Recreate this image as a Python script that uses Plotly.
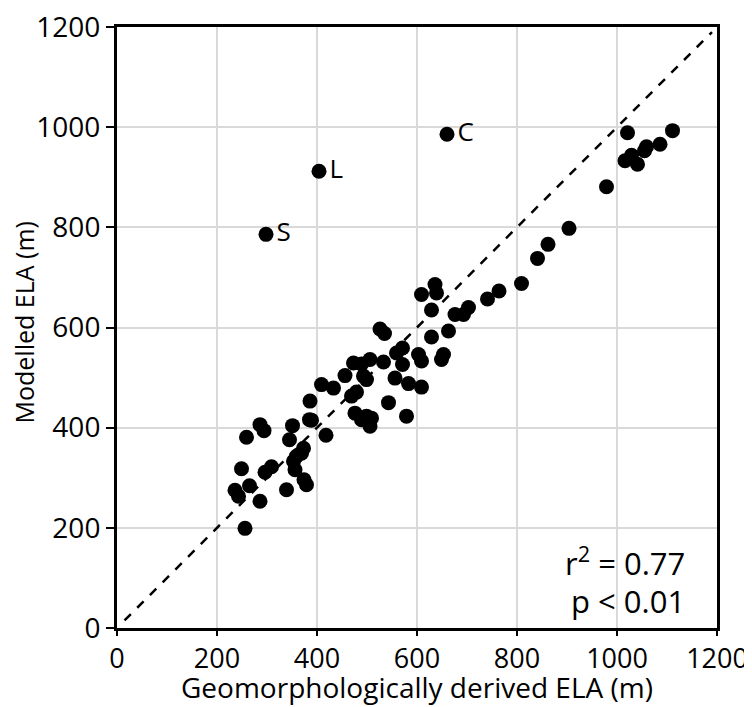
import plotly.graph_objects as go

# Geomorphologically derived ELA (m) vs Modelled ELA (m)
geo_ela = [
    1021, 1111, 1086, 1059, 1055, 1029, 1016, 1041, 979,
    904, 862, 841, 809, 764, 741,
    636, 639, 609, 629, 703, 693, 676, 526, 535, 663, 629,
    571, 559, 603, 609, 653, 649, 506, 533, 473, 489, 571,
    456, 493, 499, 556, 583, 609, 409, 433, 479, 469, 386,
    543, 579, 476, 499, 509, 489, 506, 389, 418, 373,
    385, 286, 294, 259, 351, 345, 369, 359, 353, 356, 374,
    379, 339, 249, 296, 309, 236, 243, 265, 286, 256,
]
model_ela = [
    989, 993, 966, 961, 953, 944, 933, 926, 881,
    798, 766, 738, 688, 673, 657,
    686, 669, 666, 635, 640, 626, 626, 597, 588, 593, 581,
    559, 549, 546, 533, 546, 536, 536, 531, 529, 527, 526,
    504, 503, 496, 499, 488, 481, 486, 479, 471, 463, 453,
    450, 423, 429, 423, 419, 416, 403, 415, 385, 359,
    416, 406, 394, 381, 404, 376, 349, 343, 333, 316, 296,
    286, 276, 318, 311, 322, 275, 263, 284, 253, 199,
]

# Labelled outliers
outlier_names = ["S", "L", "C"]
outlier_x = [298, 404, 660]
outlier_y = [786, 912, 986]

# 1:1 reference line
line_x = [15, 1190]
line_y = [15, 1190]

tick_vals = [0, 200, 400, 600, 800, 1000, 1200]
tick_text = ["0", "200", "400", "600", "800", "1000", "1200"]

x_title = "Geomorphologically derived ELA (m)"
y_title = "Modelled ELA (m)"

FONT = "Open Sans"

fig = go.Figure()
fig.add_trace(go.Scatter(
    x=line_x, y=line_y, mode="lines",
    line=dict(color="black", width=2.5, dash="dash"),
    hoverinfo="skip", showlegend=False,
))
fig.add_trace(go.Scatter(
    x=geo_ela, y=model_ela, mode="markers",
    marker=dict(color="black", size=15, line=dict(width=0)),
    showlegend=False,
))
fig.add_trace(go.Scatter(
    x=outlier_x, y=outlier_y, mode="markers+text",
    text=outlier_names, textposition="middle right",
    textfont=dict(family=FONT, size=26, color="black"),
    marker=dict(color="black", size=15, line=dict(width=0)),
    showlegend=False,
))

axis_common = dict(
    range=[0, 1200],
    tickvals=tick_vals,
    ticktext=tick_text,
    showgrid=True,
    gridcolor="#d9d9d9",
    gridwidth=2,
    zeroline=False,
    showline=True,
    linecolor="black",
    linewidth=3,
    mirror=True,
    ticks="outside",
    tickwidth=2,
    tickcolor="black",
    automargin=False,
    ticklabeloverflow="allow",
)

fig.update_xaxes(**axis_common, ticklen=5,
                 tickfont=dict(family=FONT, size=27, color="black"))
fig.update_yaxes(**axis_common, ticklen=8,
                 tickfont=dict(family=FONT, size=28, color="black"))

# Axis titles placed as annotations for precise positioning
fig.add_annotation(
    x=0.5, y=0, xref="paper", yref="paper",
    xanchor="center", yanchor="middle", yshift=-59, showarrow=False,
    text=x_title, font=dict(family=FONT, size=28, color="black"),
)
fig.add_annotation(
    x=0, y=0.5, xref="paper", yref="paper",
    xanchor="center", yanchor="middle", xshift=-94, yshift=5,
    textangle=-90, showarrow=False,
    text=y_title, font=dict(family=FONT, size=25, color="black"),
)

fig.add_annotation(
    x=0.95, y=0.11, xref="paper", yref="paper",
    xanchor="right", yanchor="middle", showarrow=False, align="right",
    text="r<sup>2</sup> = 0.77",
    font=dict(family=FONT, size=31, color="black"),
)
fig.add_annotation(
    x=0.95, y=0.045, xref="paper", yref="paper",
    xanchor="right", yanchor="middle", showarrow=False, align="right",
    text="p &lt; 0.01",
    font=dict(family=FONT, size=31, color="black"),
)

fig.update_layout(
    width=744, height=699,
    margin=dict(l=109, r=35, t=19, b=79),
    plot_bgcolor="white",
    paper_bgcolor="white",
    font=dict(family=FONT, color="black"),
)

fig.write_html("out.html")
